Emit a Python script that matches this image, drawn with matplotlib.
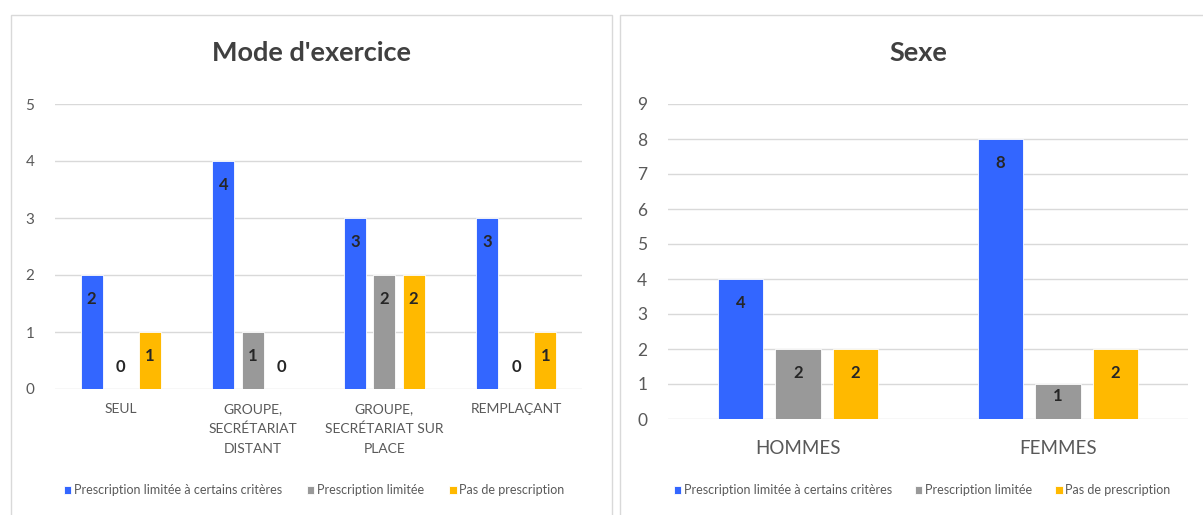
"""Two grouped bar charts: prescription type by practice mode and by sex."""

import matplotlib

matplotlib.use("Agg")
import matplotlib.pyplot as plt
import numpy as np
from matplotlib.patches import Rectangle

FONT = ["Lato", "DejaVu Sans"]
BLUE = "#3366FF"
GRAY = "#999999"
GOLD = "#FFB900"
GRID = "#D9D9D9"
TICK = "#595959"
LABEL = "#262626"
TITLE = "#404040"

SERIES = [
    "Prescription limitée à certains critères",
    "Prescription limitée",
    "Pas de prescription",
]
COLORS = [BLUE, GRAY, GOLD]

MODE_CATEGORIES = [
    "SEUL",
    "GROUPE,\nSECRÉTARIAT\nDISTANT",
    "GROUPE,\nSECRÉTARIAT SUR\nPLACE",
    "REMPLAÇANT",
]
MODE_LIMITED_CRITERIA = [2, 4, 3, 3]
MODE_LIMITED = [0, 1, 2, 0]
MODE_NONE = [1, 0, 2, 1]

SEX_CATEGORIES = ["HOMMES", "FEMMES"]
SEX_LIMITED_CRITERIA = [4, 8]
SEX_LIMITED = [2, 1]
SEX_NONE = [2, 2]

plt.rcParams["font.family"] = FONT

W, H = 1203, 515
fig = plt.figure(figsize=(W / 100, H / 100), dpi=100)


def px_box(x0, y0, x1, y1):
    return [x0 / W, 1 - y1 / H, (x1 - x0) / W, (y1 - y0) / H]


# panel frames
for x0, x1 in [(10.5, 611.5), (620, 1212)]:
    fig.add_artist(
        Rectangle(
            (x0 / W, -0.1), (x1 - x0) / W, 1.1 - 15 / H,
            transform=fig.transFigure, fill=False, edgecolor=GRID, linewidth=1.0,
        )
    )


def grouped_bars(ax, categories, series_values, ymax, bar_w, step,
                 tick_size, cat_size, cat_pad, label_size):
    x = np.arange(len(categories))
    ax.set_xlim(-0.5, len(categories) - 0.5)
    ax.set_ylim(0, ymax)
    ax.set_yticks(np.arange(0, ymax + 1))
    ax.yaxis.grid(True, color=GRID, linewidth=1.0)
    ax.set_axisbelow(True)
    for s in ax.spines.values():
        s.set_visible(False)
    ax.tick_params(axis="both", length=0, colors=TICK)
    ax.tick_params(axis="y", labelsize=tick_size, pad=15)
    ax.tick_params(axis="x", labelsize=cat_size, pad=cat_pad)
    ax.set_xticks(x)
    ax.set_xticklabels(categories, linespacing=1.75)

    fig.canvas.draw()
    px_per_unit = ax.transData.transform((0, 1))[1] - ax.transData.transform((0, 0))[1]
    for i, (vals, color) in enumerate(zip(series_values, COLORS)):
        xs = x + (i - 1) * step
        ax.bar(xs, vals, width=bar_w, color=color, edgecolor="white",
               linewidth=0.6, label=SERIES[i])
        for xi, v in zip(xs, vals):
            if v == 0:
                dy = 22
            else:
                dy = -min(24, v * px_per_unit - 23)
            ax.annotate(str(v), xy=(xi, v), xytext=(0, dy * 0.72),
                        textcoords="offset points", ha="center", va="center",
                        fontsize=label_size, fontweight="bold", color=LABEL)


ax1 = fig.add_axes(px_box(55, 104, 582, 389))
grouped_bars(ax1, MODE_CATEGORIES,
             [MODE_LIMITED_CRITERIA, MODE_LIMITED, MODE_NONE],
             5, 0.167, 0.222, 11, 10, 10, 12)

ax2 = fig.add_axes(px_box(668, 104, 1188, 419))
grouped_bars(ax2, SEX_CATEGORIES,
             [SEX_LIMITED_CRITERIA, SEX_LIMITED, SEX_NONE],
             9, 0.175, 0.221, 12.5, 13.5, 15, 12)

fig.text(311 / W, 1 - 53 / H, "Mode d'exercice", ha="center", va="center",
         fontsize=19.5, fontweight="bold", color=TITLE)
fig.text(918 / W, 1 - 53 / H, "Sexe", ha="center", va="center",
         fontsize=19.5, fontweight="bold", color=TITLE)

for ax, cx, gap in [(ax1, 314, 2.0), (ax2, 922, 1.85)]:
    handles, labels = ax.get_legend_handles_labels()
    fig.legend(handles, labels, loc="center", bbox_to_anchor=(cx / W, 1 - 490 / H),
               ncol=3, frameon=False, fontsize=9, handlelength=0.6,
               handleheight=0.6, handletextpad=0.2, columnspacing=gap,
               labelcolor=TICK)

fig.savefig("out.png", dpi=100, facecolor="white")
